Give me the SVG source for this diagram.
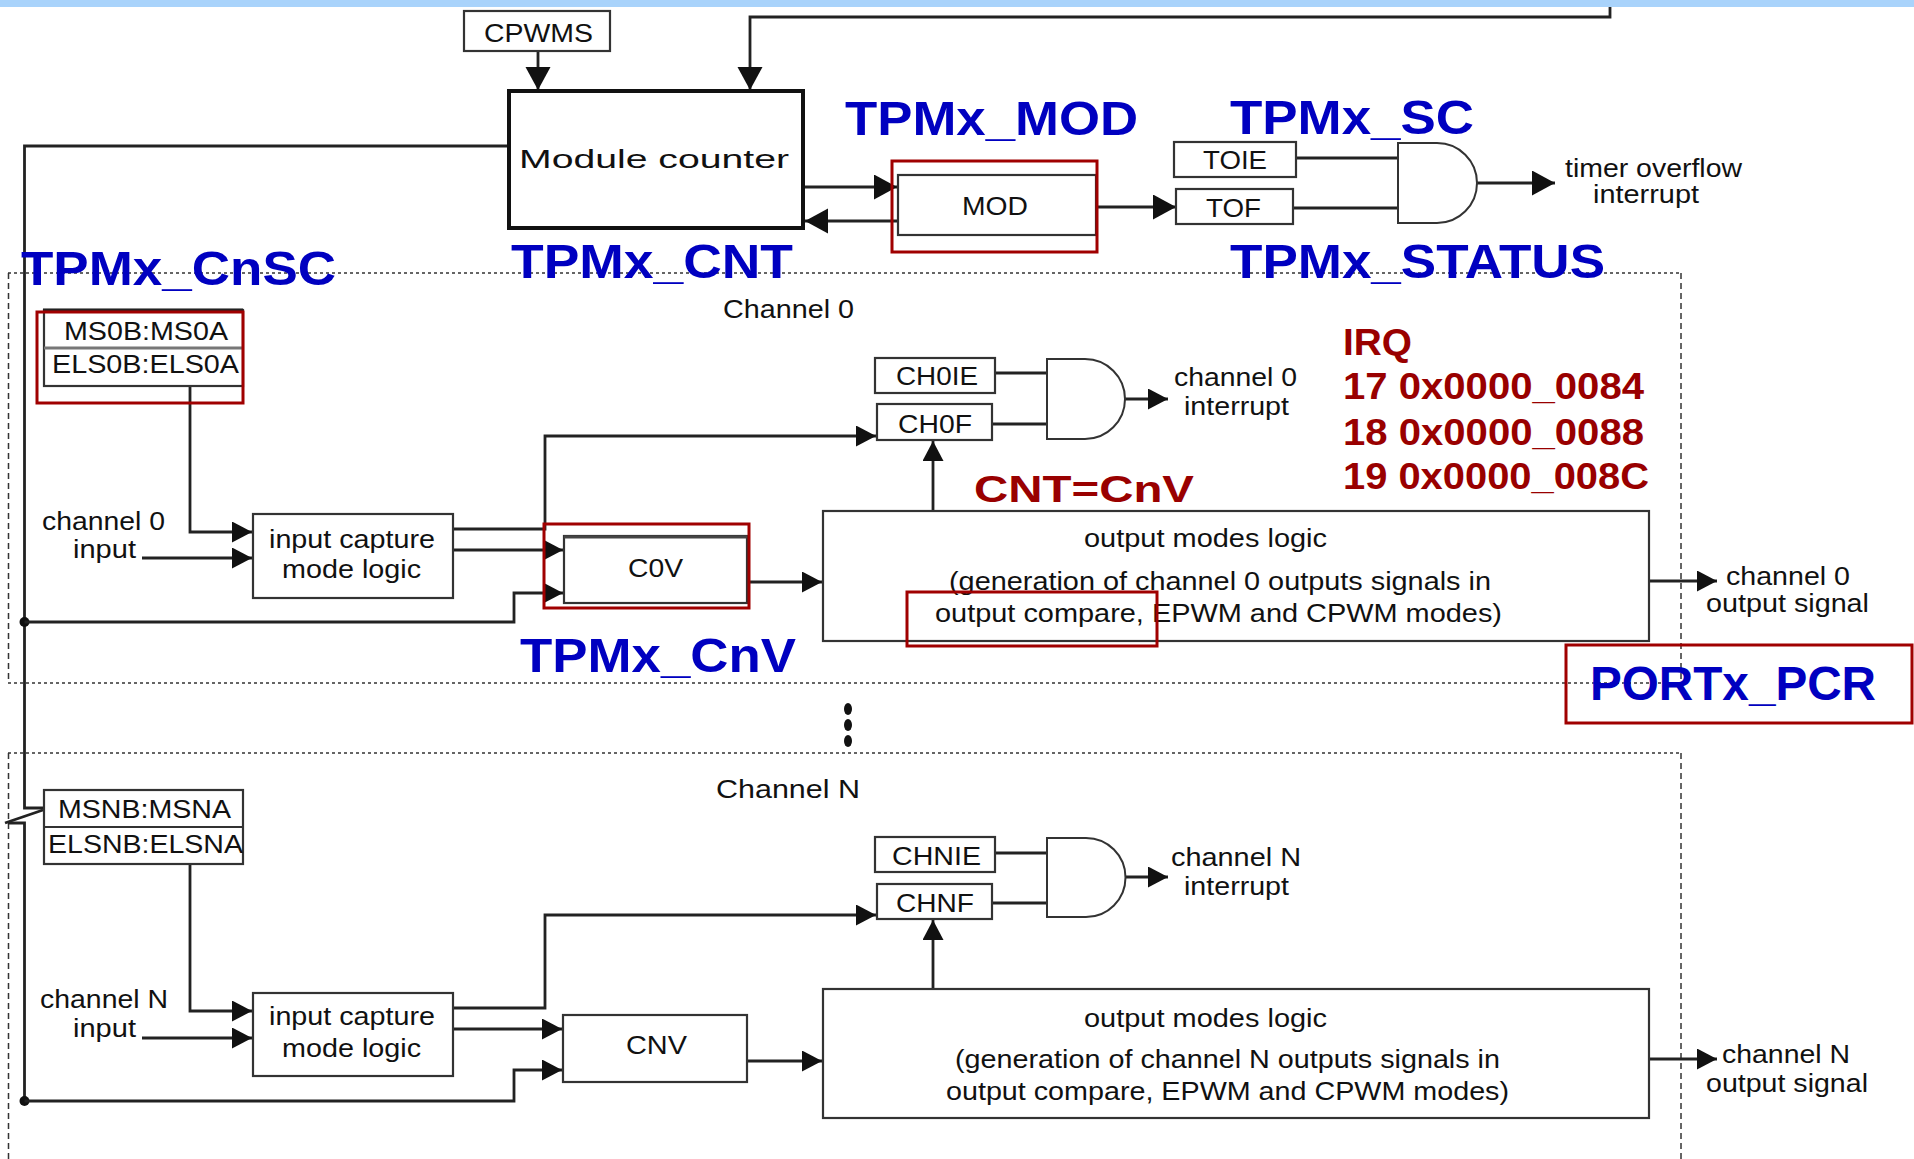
<svg xmlns="http://www.w3.org/2000/svg" width="1914" height="1159" viewBox="0 0 1914 1159">
<defs>
<style>
.t{font-family:"Liberation Sans",Arial,sans-serif;font-size:26px;fill:#111}
.bl{font-family:"Liberation Sans",Arial,sans-serif;font-weight:bold;font-size:48px;fill:#0000c0}
.rd{font-family:"Liberation Sans",Arial,sans-serif;font-weight:bold;font-size:36px;fill:#990000}
.box{fill:#fff;stroke:#333;stroke-width:2.2}
.thick{fill:#fff;stroke:#111;stroke-width:4}
.rb{fill:none;stroke:#a00000;stroke-width:3}
.ln{fill:none;stroke:#222;stroke-width:2.8}
.arr{fill:none;stroke:#222;stroke-width:2.8;marker-end:url(#ah)}
.arrb{fill:none;stroke:#222;stroke-width:2.8;marker-end:url(#ahb)}
.dh{fill:none;stroke:#333;stroke-width:1.5;stroke-dasharray:3,3}
.dv{fill:none;stroke:#333;stroke-width:1.5;stroke-dasharray:6,4}
.gate{fill:#fff;stroke:#333;stroke-width:2}
</style>
<marker id="ah" markerUnits="userSpaceOnUse" markerWidth="24" markerHeight="24" refX="20" refY="10.5" orient="auto">
<path d="M0,0 L20,10.5 L0,21 z" fill="#111"/>
</marker>
<marker id="ahb" markerUnits="userSpaceOnUse" markerWidth="28" markerHeight="28" refX="23" refY="12.5" orient="auto">
<path d="M0,0 L23,12.5 L0,25 z" fill="#111"/>
</marker>
</defs>
<rect x="0" y="0" width="1914" height="1159" fill="#fff"/>
<rect x="0" y="0" width="1914" height="7" fill="#a9d3fb"/>

<g id="channel0-frame">
<line class="dh" x1="8" y1="273" x2="1681" y2="273"/>
<line class="dh" x1="8" y1="683" x2="1681" y2="683"/>
<line class="dv" x1="8.5" y1="273" x2="8.5" y2="683"/>
<line class="dv" x1="1681" y1="273" x2="1681" y2="683"/>
<text class="t" x="723" y="318" textLength="131" lengthAdjust="spacingAndGlyphs">Channel 0</text>
</g>
<g id="channelN-frame">
<line class="dh" x1="8" y1="753" x2="1681" y2="753"/>
<line class="dv" x1="8.5" y1="753" x2="8.5" y2="1159"/>
<line class="dv" x1="1681" y1="753" x2="1681" y2="1159"/>
<text class="t" x="716" y="798" textLength="144" lengthAdjust="spacingAndGlyphs">Channel  N</text>
</g>
<g id="ellipsis">
<ellipse cx="848" cy="709" rx="4" ry="6" fill="#111"/>
<ellipse cx="848" cy="725" rx="4" ry="6" fill="#111"/>
<ellipse cx="848" cy="741" rx="4" ry="6" fill="#111"/>
</g>

<g id="connectors">
<path class="arrb" d="M538,51 V90"/>
<path class="arrb" d="M1610,7 V17 H750 V90"/>
<path class="ln" d="M509,146 H24.5 V808 H43"/>
<path class="ln" d="M43,810 L5,823"/>
<path class="ln" d="M8,823 H24.5 V1101"/>
<circle cx="24.5" cy="622" r="5" fill="#111"/>
<circle cx="24.5" cy="1101" r="5" fill="#111"/>
<path class="arrb" d="M805,187 H897"/>
<path class="arrb" d="M898,221 H805"/>
<path class="arrb" d="M1097,207 H1176"/>
<path class="ln" d="M1296,158 H1398"/>
<path class="ln" d="M1293,208 H1398"/>
<path class="arrb" d="M1477,183 H1555"/>
<path class="arr" d="M190,386 V532 H252"/>
<path class="arr" d="M142,558 H252"/>
<path class="arr" d="M453,529 H545 V436 H876"/>
<path class="arr" d="M453,550 H563"/>
<path class="arr" d="M24.5,622 H514 V593 H563"/>
<path class="arr" d="M747,582 H822"/>
<path class="arr" d="M933,511 V441"/>
<path class="ln" d="M995,373 H1047"/>
<path class="ln" d="M992,424 H1047"/>
<path class="arr" d="M1125,399 H1168"/>
<path class="arr" d="M1649,581 H1717"/>
<path class="arr" d="M190,864 V1011 H252"/>
<path class="arr" d="M142,1038 H252"/>
<path class="arr" d="M453,1008 H545 V915 H876"/>
<path class="arr" d="M453,1029 H562"/>
<path class="arr" d="M24.5,1101 H514 V1070 H562"/>
<path class="arr" d="M747,1061 H822"/>
<path class="arr" d="M933,989 V920"/>
<path class="ln" d="M995,853 H1047"/>
<path class="ln" d="M992,903 H1047"/>
<path class="arr" d="M1125,877 H1168"/>
<path class="arr" d="M1649,1059 H1717"/>
</g>

<g id="cpwms">
<rect class="box" x="464" y="11" width="146" height="40"/>
<text class="t" x="484" y="42" font-size="27" textLength="109" lengthAdjust="spacingAndGlyphs">CPWMS</text>
</g>
<g id="module-counter">
<rect class="thick" x="509" y="91" width="294" height="137"/>
<text class="t" x="519" y="168" font-size="34" textLength="270" lengthAdjust="spacingAndGlyphs">Module counter</text>
</g>
<g id="mod">
<rect class="box" x="898" y="175" width="198" height="60"/>
<rect class="rb" x="892" y="161" width="205" height="91"/>
<text class="t" x="962" y="215" font-size="28" textLength="66" lengthAdjust="spacingAndGlyphs">MOD</text>
</g>
<g id="toie">
<rect class="box" x="1174" y="142" width="122" height="35"/>
<text class="t" x="1203" y="169" font-size="26" textLength="64" lengthAdjust="spacingAndGlyphs">TOIE</text>
</g>
<g id="tof">
<rect class="box" x="1176" y="189" width="117" height="35"/>
<text class="t" x="1206" y="217" font-size="27" textLength="55" lengthAdjust="spacingAndGlyphs">TOF</text>
</g>
<g id="and-overflow">
<path class="gate" d="M1398,143 H1437 A40,40 0 0 1 1437,223 H1398 Z"/>
</g>
<g id="timer-overflow-label">
<text class="t" x="1565" y="177" font-size="25" textLength="177" lengthAdjust="spacingAndGlyphs">timer overflow</text>
<text class="t" x="1593" y="203" font-size="25" textLength="106" lengthAdjust="spacingAndGlyphs">interrupt</text>
</g>

<g id="ms0-regs">
<rect class="box" x="44" y="310" width="199" height="76"/>
<line x1="44" y1="348" x2="243" y2="348" stroke="#777" stroke-width="3"/>
<line x1="43" y1="310" x2="243" y2="310" stroke="#222" stroke-width="3"/>
<text class="t" x="64" y="340" textLength="164" lengthAdjust="spacingAndGlyphs">MS0B:MS0A</text>
<text class="t" x="52" y="373" textLength="187" lengthAdjust="spacingAndGlyphs">ELS0B:ELS0A</text>
<rect class="rb" x="37" y="312" width="206" height="91"/>
</g>
<g id="ch0-input-label">
<text class="t" x="42" y="530" textLength="123" lengthAdjust="spacingAndGlyphs">channel 0</text>
<text class="t" x="73" y="558" textLength="63" lengthAdjust="spacingAndGlyphs">input</text>
</g>
<g id="ic0">
<rect class="box" x="253" y="514" width="200" height="84"/>
<text class="t" x="269" y="548" textLength="166" lengthAdjust="spacingAndGlyphs">input capture</text>
<text class="t" x="282" y="578" textLength="139" lengthAdjust="spacingAndGlyphs">mode logic</text>
</g>
<g id="c0v">
<rect class="box" x="564" y="536" width="183" height="67"/>
<line x1="564" y1="537" x2="747" y2="537" stroke="#444" stroke-width="3"/>
<text class="t" x="628" y="577" textLength="55" lengthAdjust="spacingAndGlyphs">C0V</text>
<rect class="rb" x="544" y="524" width="205" height="84"/>
</g>
<g id="ch0ie">
<rect class="box" x="875" y="358" width="120" height="35"/>
<text class="t" x="896" y="385" textLength="82" lengthAdjust="spacingAndGlyphs">CH0IE</text>
</g>
<g id="ch0f">
<rect class="box" x="877" y="404" width="115" height="36"/>
<text class="t" x="898" y="433" textLength="74" lengthAdjust="spacingAndGlyphs">CH0F</text>
</g>
<g id="and-ch0">
<path class="gate" d="M1047,359 H1085 A40,40 0 0 1 1085,439 H1047 Z"/>
</g>
<g id="ch0-int-label">
<text class="t" x="1174" y="386" textLength="123" lengthAdjust="spacingAndGlyphs">channel 0</text>
<text class="t" x="1184" y="415" textLength="105" lengthAdjust="spacingAndGlyphs">interrupt</text>
</g>
<g id="out0">
<rect class="box" x="823" y="511" width="826" height="130"/>
<text class="t" x="1084" y="547" textLength="243" lengthAdjust="spacingAndGlyphs">output modes logic</text>
<text class="t" x="949" y="590" textLength="542" lengthAdjust="spacingAndGlyphs">(generation of channel 0 outputs signals in</text>
<text class="t" x="935" y="622" textLength="567" lengthAdjust="spacingAndGlyphs">output compare, EPWM and CPWM modes)</text>
<rect class="rb" x="907" y="592" width="250" height="54"/>
</g>
<g id="ch0-out-label">
<text class="t" x="1726" y="585" textLength="124" lengthAdjust="spacingAndGlyphs">channel 0</text>
<text class="t" x="1706" y="612" textLength="163" lengthAdjust="spacingAndGlyphs">output signal</text>
</g>

<g id="msn-regs">
<rect class="box" x="44" y="790" width="199" height="74"/>
<line x1="44" y1="827" x2="243" y2="827" stroke="#333" stroke-width="2.2"/>
<text class="t" x="58" y="818" textLength="173" lengthAdjust="spacingAndGlyphs">MSNB:MSNA</text>
<text class="t" x="48" y="853" textLength="195" lengthAdjust="spacingAndGlyphs">ELSNB:ELSNA</text>
</g>
<g id="chN-input-label">
<text class="t" x="40" y="1008" textLength="128" lengthAdjust="spacingAndGlyphs">channel N</text>
<text class="t" x="73" y="1037" textLength="63" lengthAdjust="spacingAndGlyphs">input</text>
</g>
<g id="icN">
<rect class="box" x="253" y="993" width="200" height="83"/>
<text class="t" x="269" y="1025" textLength="166" lengthAdjust="spacingAndGlyphs">input capture</text>
<text class="t" x="282" y="1057" textLength="139" lengthAdjust="spacingAndGlyphs">mode logic</text>
</g>
<g id="cnv">
<rect class="box" x="563" y="1015" width="184" height="67"/>
<text class="t" x="626" y="1054" textLength="61" lengthAdjust="spacingAndGlyphs">CNV</text>
</g>
<g id="chnie">
<rect class="box" x="875" y="837" width="120" height="35"/>
<text class="t" x="892" y="865" textLength="89" lengthAdjust="spacingAndGlyphs">CHNIE</text>
</g>
<g id="chnf">
<rect class="box" x="877" y="884" width="115" height="35"/>
<text class="t" x="896" y="912" textLength="78" lengthAdjust="spacingAndGlyphs">CHNF</text>
</g>
<g id="and-chN">
<path class="gate" d="M1047,838 H1086 A39.5,39.5 0 0 1 1086,917 H1047 Z"/>
</g>
<g id="chN-int-label">
<text class="t" x="1171" y="866" textLength="130" lengthAdjust="spacingAndGlyphs">channel N</text>
<text class="t" x="1184" y="895" textLength="105" lengthAdjust="spacingAndGlyphs">interrupt</text>
</g>
<g id="outN">
<rect class="box" x="823" y="989" width="826" height="129"/>
<text class="t" x="1084" y="1027" textLength="243" lengthAdjust="spacingAndGlyphs">output modes logic</text>
<text class="t" x="955" y="1068" textLength="545" lengthAdjust="spacingAndGlyphs">(generation of channel N outputs signals in</text>
<text class="t" x="946" y="1100" textLength="563" lengthAdjust="spacingAndGlyphs">output compare, EPWM and CPWM modes)</text>
</g>
<g id="chN-out-label">
<text class="t" x="1722" y="1063" textLength="128" lengthAdjust="spacingAndGlyphs">channel N</text>
<text class="t" x="1706" y="1092" textLength="162" lengthAdjust="spacingAndGlyphs">output signal</text>
</g>

<g id="register-labels">
<text class="bl" x="845" y="135" textLength="293" lengthAdjust="spacingAndGlyphs">TPMx_MOD</text>
<text class="bl" x="1230" y="134" textLength="244" lengthAdjust="spacingAndGlyphs">TPMx_SC</text>
<text class="bl" x="511" y="278" textLength="282" lengthAdjust="spacingAndGlyphs">TPMx_CNT</text>
<text class="bl" x="1230" y="278" textLength="375" lengthAdjust="spacingAndGlyphs">TPMx_STATUS</text>
<text class="bl" x="21" y="285" textLength="315" lengthAdjust="spacingAndGlyphs">TPMx_CnSC</text>
<text class="bl" x="520" y="672" textLength="276" lengthAdjust="spacingAndGlyphs">TPMx_CnV</text>
</g>
<g id="portx-pcr">
<rect class="rb" x="1566" y="645" width="346" height="78"/>
<text class="bl" x="1590" y="700" font-size="45" textLength="286" lengthAdjust="spacingAndGlyphs">PORTx_PCR</text>
</g>
<g id="irq-notes">
<text class="rd" x="974" y="502" font-size="44" textLength="220" lengthAdjust="spacingAndGlyphs">CNT=CnV</text>
<text class="rd" x="1343" y="355" textLength="69" lengthAdjust="spacingAndGlyphs">IRQ</text>
<text class="rd" x="1343" y="399" textLength="301" lengthAdjust="spacingAndGlyphs">17 0x0000_0084</text>
<text class="rd" x="1343" y="445" textLength="301" lengthAdjust="spacingAndGlyphs">18 0x0000_0088</text>
<text class="rd" x="1343" y="489" textLength="306" lengthAdjust="spacingAndGlyphs">19 0x0000_008C</text>
</g>
</svg>
